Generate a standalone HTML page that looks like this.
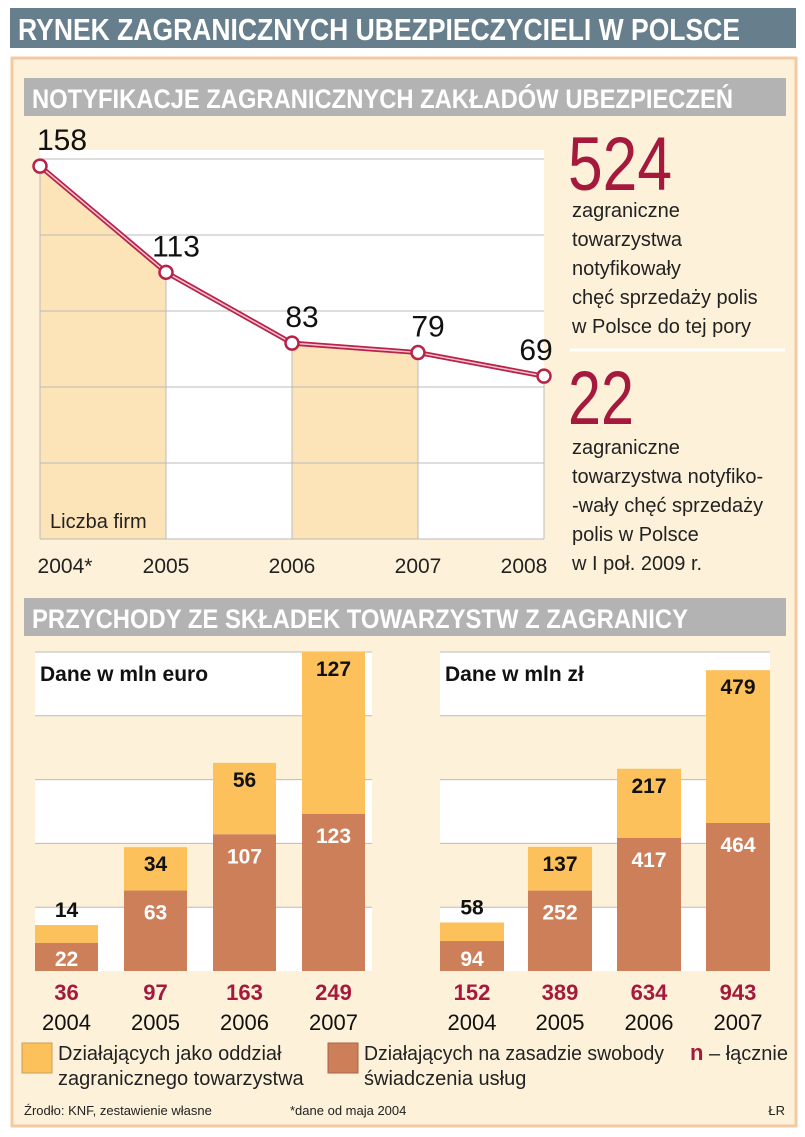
<!DOCTYPE html>
<html><head><meta charset="utf-8"><style>
html,body{margin:0;padding:0;background:#fff;}
svg{display:block;}
text{font-family:"Liberation Sans Narrow","Liberation Sans",sans-serif;}
</style></head><body>
<svg id="chart" width="805" height="1137" viewBox="0 0 805 1137" xmlns="http://www.w3.org/2000/svg">
<rect x="10" y="8" width="786" height="40" fill="#677f8c"/>
<text x="18" y="40" font-size="31" font-weight="bold" fill="#fff" textLength="722" lengthAdjust="spacingAndGlyphs">RYNEK ZAGRANICZNYCH UBEZPIECZYCIELI W POLSCE</text>
<rect x="12" y="58" width="784" height="1068" fill="#fdf1d9" stroke="#f3c9a3" stroke-width="3"/>
<rect x="24" y="78" width="762" height="38" fill="#b3b3b3"/>
<text x="32" y="108" font-size="27" font-weight="bold" fill="#fff" textLength="701" lengthAdjust="spacingAndGlyphs">NOTYFIKACJE ZAGRANICZNYCH ZAKŁADÓW UBEZPIECZEŃ</text>
<g id="line"></g>
<text x="568" y="190" font-size="76" fill="#a5193d" textLength="104" lengthAdjust="spacingAndGlyphs">524</text>
<g font-size="20" fill="#222">
<text x="572" y="217">zagraniczne</text><text x="572" y="246">towarzystwa</text><text x="572" y="275">notyfikowały</text><text x="572" y="304">chęć sprzedaży polis</text><text x="572" y="333">w Polsce do tej pory</text></g>
<line x1="570" y1="350" x2="785" y2="350" stroke="#fff" stroke-width="3"/>
<text x="568" y="424" font-size="76" fill="#a5193d" textLength="66" lengthAdjust="spacingAndGlyphs">22</text>
<g font-size="20" fill="#222">
<text x="572" y="454">zagraniczne</text><text x="572" y="483">towarzystwa notyfiko-</text><text x="572" y="512">-wały chęć sprzedaży</text><text x="572" y="541">polis w Polsce</text><text x="572" y="570">w I poł. 2009 r.</text></g>
<rect x="24" y="598" width="762" height="38" fill="#b3b3b3"/>
<text x="32" y="628" font-size="27" font-weight="bold" fill="#fff" textLength="656" lengthAdjust="spacingAndGlyphs">PRZYCHODY ZE SKŁADEK TOWARZYSTW Z ZAGRANICY</text>
<g id="bars1"></g><g id="bars2"></g>
<rect x="22" y="1043" width="30" height="30" fill="#fcc15a" stroke="#c9a060"/>
<text x="58" y="1060" font-size="20" fill="#222">Działających jako oddział</text>
<text x="58" y="1085" font-size="20" fill="#222">zagranicznego towarzystwa</text>
<rect x="328" y="1043" width="30" height="30" fill="#cd7f5a" stroke="#a8654a"/>
<text x="364" y="1060" font-size="20" fill="#222" textLength="300" lengthAdjust="spacingAndGlyphs">Działających na zasadzie swobody</text>
<text x="364" y="1085" font-size="20" fill="#222">świadczenia usług</text>
<text x="690" y="1060" font-size="20" fill="#222"><tspan fill="#a5193d" font-weight="bold" font-size="22">n</tspan> – łącznie</text>
<text x="24" y="1115" font-size="13" fill="#222">Źrodło: KNF, zestawienie własne</text>
<text x="290" y="1115" font-size="13" fill="#222">*dane od maja 2004</text>
<text x="785" y="1115" font-size="13" fill="#222" text-anchor="end">ŁR</text>
</svg>
<script>
const NS='http://www.w3.org/2000/svg';
const lineYears=['2004*','2005','2006','2007','2008'];
const lineValues=[158,113,83,79,69];
const euroYears=['2004','2005','2006','2007'];
const euroServices=[22,63,107,123];
const euroBranch=[14,34,56,127];
const euroTotals=[36,97,163,249];
const plnServices=[94,252,417,464];
const plnBranch=[58,137,217,479];
const plnTotals=[152,389,634,943];

function mk(tag,attrs,parent,txt){const e=document.createElementNS(NS,tag);for(const k in attrs)e.setAttribute(k,attrs[k]);if(txt!==undefined)e.textContent=txt;parent.appendChild(e);return e;}

(function(){
  const g=document.getElementById('line');
  const x0=40,x1=544,yb=539,ppu=2.36;
  const xs=i=>x0+i*(x1-x0)/(lineValues.length-1);
  const ys=v=>yb-v*ppu;
  const bg=mk('rect',{x:x0,y:150,width:x1-x0,height:yb-150,fill:'#fff'},g);
  
  
  for(let i=0;i<lineValues.length-1;i+=2){
    const p=mk('polygon',{points:`${xs(i)},${yb} ${xs(i)},${ys(lineValues[i])} ${xs(i+1)},${ys(lineValues[i+1])} ${xs(i+1)},${yb}`,fill:'#fde3b8'},g);
    
    
  }
  for(let k=0;k<6;k++){const y=yb-k*76;const l=mk('line',{x1:x0,y1:y,x2:x1,y2:y,stroke:'#bbb','stroke-width':1},g);
    
    }
  lineValues.forEach((v,i)=>{const l=mk('line',{x1:xs(i),y1:ys(v),x2:xs(i),y2:yb,stroke:'#bbb'},g);
    
    });
  const pts=lineValues.map((v,i)=>xs(i)+','+ys(v)).join(' ');
  const pl=mk('polyline',{points:pts,fill:'none',stroke:'#b8234a','stroke-width':5},g);
  
  
  mk('polyline',{points:pts,fill:'none',stroke:'#f6c3cf','stroke-width':1.5},g);
  lineValues.forEach((v,i)=>{
    const c=mk('circle',{cx:xs(i),cy:ys(v),r:6.5,fill:'#fff',stroke:'#b8234a','stroke-width':2.5},g);
    
    
    const t=mk('text',{x:i==0?xs(i)+22:xs(i)+(i==4?-8:10),y:ys(v)-16,'font-size':30,fill:'#111','text-anchor':'middle'},g,v);
    
    
    const yl=mk('text',{x:i==0?xs(i)+25:(i==4?xs(i)-20:xs(i)),y:573,'font-size':21,fill:'#222','text-anchor':'middle'},g,lineYears[i]);
    
    
  });
  const lf=mk('text',{x:50,y:528,'font-size':20,fill:'#222'},g,'Liczba firm');
  
  
})();

function bars(id,px0,px1,barX,bw,ppu,serv,branch,tot,title){
  const g=document.getElementById(id);
  const top=652,base=971;
  for(let k=0;k<5;k++){const y0=top+k*63.8;
    if(k%2==0){const r=mk('rect',{x:px0,y:y0,width:px1-px0,height:63.8,fill:'#fff'},g);
      
      }
    const l=mk('line',{x1:px0,y1:y0,x2:px1,y2:y0,stroke:'#bbb'},g);
    
    }
  const tt=mk('text',{x:px0+5,y:681,'font-size':21,'font-weight':'bold',fill:'#111'},g,title);
  
  
  serv.forEach((s,i)=>{
    const x=barX[i];const hs=s*ppu,hb=branch[i]*ppu;
    const rb=mk('rect',{x:x,y:base-hs-hb,width:bw,height:hb,fill:'#fcc15a'},g);
    
    
    const rs=mk('rect',{x:x,y:base-hs,width:bw,height:hs,fill:'#cd7f5a'},g);
    
    
    const cx=x+bw/2;
    const small=hb<30;
    const tb=mk('text',{x:cx,y:small?base-hs-hb-8:base-hs-hb+24,'font-size':21,'font-weight':'bold',fill:'#111','text-anchor':'middle'},g,branch[i]);
    
    
    const ts=mk('text',{x:cx,y:base-hs+Math.min(29,hs-5),'font-size':21,'font-weight':'bold',fill:'#fff','text-anchor':'middle'},g,s);
    
    
    const tn=mk('text',{x:cx,y:1000,'font-size':22,'font-weight':'bold',fill:'#a5193d','text-anchor':'middle'},g,tot[i]);
    
    
    const ty=mk('text',{x:cx,y:1030,'font-size':22,fill:'#111','text-anchor':'middle'},g,euroYears[i]);
    
    
  });
}
bars('bars1',35,372,[35,124,213,302],63,1.277,euroServices,euroBranch,euroTotals,'Dane w mln euro');
bars('bars2',440,770,[440,528,617,706],64,0.319,plnServices,plnBranch,plnTotals,'Dane w mln zł');
</script>
</body></html>
